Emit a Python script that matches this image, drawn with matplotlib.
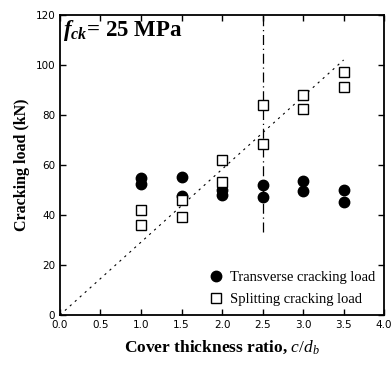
import matplotlib.pyplot as plt
import numpy as np

plt.rcParams["mathtext.fontset"] = "custom"
plt.rcParams["mathtext.it"] = "Liberation Serif:italic"
plt.rcParams["mathtext.bf"] = "Liberation Serif:bold:italic"
plt.rcParams["mathtext.rm"] = "Liberation Serif"

# cover thickness ratio c/db
ratio = [1.0, 1.0, 1.5, 1.5, 2.0, 2.0, 2.5, 2.5, 3.0, 3.0, 3.5, 3.5]
# transverse cracking load (kN)
transverse = [54.8, 52.4, 55.0, 47.4, 49.8, 48.0, 52.0, 47.0, 53.6, 49.4, 50.0, 45.0]
# splitting cracking load (kN)
splitting = [42.0, 36.0, 46.0, 39.0, 62.0, 53.0, 84.0, 68.4, 88.0, 82.4, 97.0, 91.0]

trend_x = [0.0, 3.5]
trend_y = [0.0, 102.0]
limit_x = 2.5
limit_y = [33.0, 120.0]

fig = plt.figure(figsize=(3.92, 3.65), dpi=100)
ax = fig.add_axes([0.153, 0.137, 0.827, 0.822])

ax.plot(trend_x, trend_y, color="black", lw=0.8, ls=(0, (2, 4)))
ax.plot([limit_x, limit_x], limit_y, color="black", lw=0.9, ls=(0, (8, 3, 1, 3)))

ax.plot(ratio, transverse, "o", color="black", ms=7.5, mec="black",
        label="Transverse cracking load")
ax.plot(ratio, splitting, "s", mfc="white", mec="black", ms=7.0, mew=1.0,
        label="Splitting cracking load")

ax.set_xlim(0, 4)
ax.set_ylim(0, 120)
ax.set_xticks(np.arange(0, 4.01, 0.5))
ax.set_yticks(np.arange(0, 121, 20))
ax.set_xticklabels([f"{v:.1f}" for v in np.arange(0, 4.01, 0.5)])
ax.tick_params(direction="in", top=True, right=True, labelsize=7.5, length=4, width=1)
for s in ax.spines.values():
    s.set_linewidth(1.3)

ax.set_xlabel(r"Cover thickness ratio, $c/d_b$", family="Liberation Serif",
              fontweight="bold", fontsize=12.5, labelpad=6)
ax.set_ylabel("Cracking load (kN)", family="Liberation Serif",
              fontweight="bold", fontsize=11.5, labelpad=4)

ax.text(0.01, 0.99, r"$\mathbf{f_{ck}}$= 25 MPa", transform=ax.transAxes,
        ha="left", va="top", family="Liberation Serif", fontweight="bold", fontsize=16.5)

ax.legend(loc="lower right", frameon=False, prop={"family": "Liberation Serif", "size": 10.5},
          handletextpad=0.4, borderaxespad=0.2, labelspacing=0.6, handlelength=1.2)

fig.savefig("out.png", dpi=100)
